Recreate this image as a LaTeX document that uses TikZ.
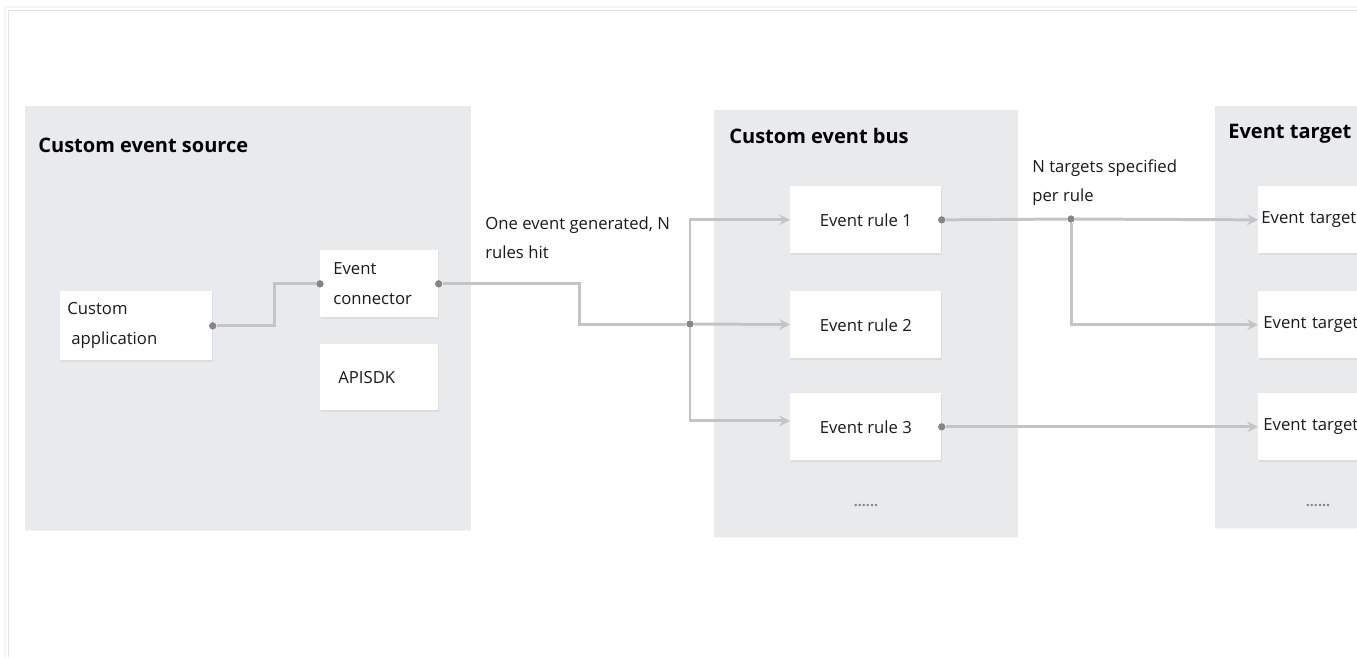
\documentclass[tikz,border=0pt]{standalone}
\usepackage{fontspec}
\setmainfont{Open Sans}
\usetikzlibrary{shadows}

\definecolor{panelgray}{HTML}{E9EAEC}
\definecolor{linegray}{HTML}{C4C4C4}
\definecolor{dotgray}{HTML}{858585}
\definecolor{inkgray}{HTML}{1A1A1A}
\newcommand{\pix}{0.02cm}
\newcommand{\bodyfont}{\fontsize{9.5pt}{17pt}\selectfont}
\newcommand{\titlefont}{\fontsize{11.4pt}{13pt}\selectfont\bfseries}

\begin{document}
\begin{tikzpicture}[x=\pix, y=-\pix,
	panel/.style={fill=panelgray, drop shadow={shadow xshift=0pt, shadow yshift=-0.8pt, opacity=0.08}},
	box/.style={fill=white, anchor=north west, inner ysep=0pt, align=left, font=\bodyfont, text=inkgray,
		drop shadow={shadow xshift=0.4pt, shadow yshift=-0.7pt, opacity=0.12}},
	title/.style={anchor=base west, inner sep=0pt, font=\titlefont, text=black},
	note/.style={anchor=north west, inner sep=0pt, align=left, font=\bodyfont, text=inkgray},
	link/.style={draw=linegray, line width=1.7pt},
	flow/.style={link, -stealth},
	joint/.style={circle, fill=dotgray, inner sep=0pt, minimum size=7*\pix},
	more/.style={font=\fontsize{8pt}{8pt}\selectfont\bfseries, text=dotgray, inner sep=0pt}]

	\useasboundingbox (0,0) rectangle (1357,657);
	\clip (0,0) rectangle (1357,657);

	% card
	\fill [white] (8,10) rectangle (1357,657);
	\draw [gray!8, line width=1.2pt] (5,657) -- (5,7) -- (1357,7);
	\draw [gray!22] (8,657) -- (8,10) -- (1357,10);

	% panels
	\path [panel] (25,106) rectangle (471,530);
	\path [panel] (714,110) rectangle (1018,537);
	\path [panel] (1215,106) rectangle (1400,528);

	\node [title] (srctitle) at (38,152) {Custom event source};
	\node [title] (bustitle) at (729,143) {Custom event bus};
	\node [title] (tgttitle) at (1228,138) {Event target};

	% source side
	\node [box, minimum width=152*\pix, minimum height=69*\pix, inner xsep=7*\pix, text width=138*\pix]
		(app) at (60,291) {Custom\\\hspace*{2.3pt}application};
	\node [box, minimum width=118*\pix, minimum height=67*\pix, inner xsep=13*\pix, text width=92*\pix]
		(conn) at (320,250) {Event\\connector};
	\node [box, minimum width=118*\pix, minimum height=66*\pix, inner xsep=18*\pix, text width=82*\pix]
		(sdk) at (320,344) {APISDK};

	% bus
	\foreach \i/\y in {1/186, 2/291, 3/393}
	{
		\node [box, align=center, minimum width=151*\pix, minimum height=67*\pix] (rule\i) at (790,\y) {Event rule \i};
	}
	\node [more] (busmore) at (866,506) {......};

	% targets
	\foreach \i/\y/\dx in {1/186/3, 2/291/5, 3/393/5}
	{
		\node [box, minimum width=150*\pix, minimum height=67*\pix, inner xsep=\dx*\pix, text width={(150-2*\dx)*\pix}]
			(tgt\i) at (1258,\y) {Event target};
	}
	\node [more] (tgtmore) at (1318,506) {......};

	% notes
	\node [note] (hitnote) at (485,216) {One event generated, N\\rules hit};
	\node [note] (pernote) at (1032,159) {N targets specified\\per rule};

	% joints
	\node [joint] (appout) at (app.east) {};
	\node [joint] (connin) at (conn.west) {};
	\node [joint] (connout) at (conn.east) {};
	\node [joint] (split) at (690,324) {};
	\node [joint] (r1out) at (rule1.east) {};
	\node [joint] (fork) at (1071,219) {};
	\node [joint] (r3out) at (rule3.east) {};

	% connectors
	\draw [link] (appout) -- ++(62,0) |- (connin);
	\draw [link] (connout) -- ++(141,0) |- (split);
	\draw [flow] (split) -- (rule2);
	\draw [flow] (split) |- (rule1);
	\draw [flow] (split) |- ([yshift=3.4pt]rule3.west);
	\draw [link] (r1out) -- (fork);
	\draw [flow] (fork) -- (tgt1.west);
	\draw [flow] (fork) |- (tgt2.west);
	\draw [flow] (r3out) -- (tgt3.west);

	% dots on top
	\foreach \j in {appout, connin, connout, split, r1out, fork, r3out}
	{
		\fill [dotgray] (\j) circle (3.5);
	}
\end{tikzpicture}
\end{document}
